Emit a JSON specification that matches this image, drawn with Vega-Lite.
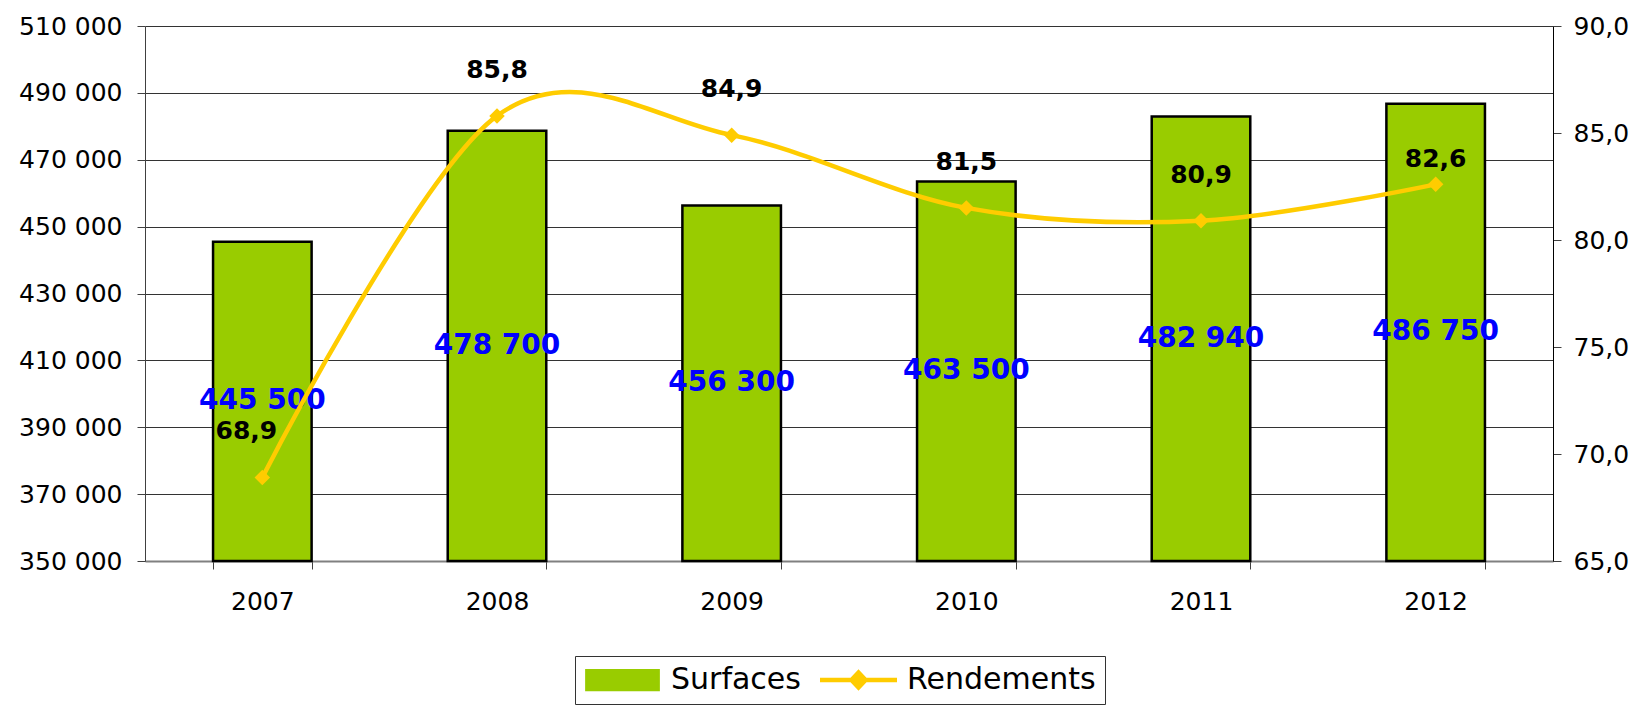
{
  "$schema": "https://vega.github.io/schema/vega-lite/v6.json",
  "autosize": {"type": "none"},
  "padding": {"left": 145, "top": 26, "right": 86, "bottom": 144},
  "width": 1408,
  "height": 535,
  "background": "white",
  "config": {
    "locale": {"number": {"decimal": ",", "thousands": " ", "grouping": [3], "currency": ["", " €"]}},
    "font": "DejaVu Sans",
    "view": {"stroke": null},
    "axis": {"labelFont": "DejaVu Sans", "labelFontSize": 25, "labelColor": "black"}
  },
  "data": {"values": [
    {"annee": "2007", "surface": 445500, "rendement": 68.9},
    {"annee": "2008", "surface": 478700, "rendement": 85.8},
    {"annee": "2009", "surface": 456300, "rendement": 84.9},
    {"annee": "2010", "surface": 463500, "rendement": 81.5},
    {"annee": "2011", "surface": 482940, "rendement": 80.9},
    {"annee": "2012", "surface": 486750, "rendement": 82.6}
  ]},
  "encoding": {
    "x": {"field": "annee", "type": "ordinal", "title": null,
      "scale": {"paddingInner": 0.58, "paddingOuter": 0.29},
      "axis": {"labelAngle": 0, "domainColor": "#808080", "domainWidth": 2, "tickColor": "#404040", "tickBand": "extent", "tickSize": 8, "labelPadding": 20, "labelFontSize": 25}}
  },
  "layer": [
    {
      "layer": [
        {
          "mark": {"type": "bar", "stroke": "black", "strokeWidth": 2.5, "opacity": 1},
          "encoding": {
            "y": {"field": "surface", "type": "quantitative", "title": null,
              "scale": {"domain": [350000, 510000], "nice": false, "zero": false},
              "axis": {"values": [350000, 370000, 390000, 410000, 430000, 450000, 470000, 490000, 510000], "format": ",d", "grid": true, "gridColor": "#333333", "gridWidth": 1, "domainColor": "#404040", "tickColor": "#404040", "tickSize": 8, "labelPadding": 15, "orient": "left"}},
            "y2": {"datum": 350000},
            "color": {"datum": "Surfaces", "type": "nominal",
              "scale": {"domain": ["Surfaces", "Rendements"], "range": ["#99CC00", "#FFCC00"]},
              "legend": {
                "title": null, "orient": "none", "legendX": 430, "legendY": 630, "direction": "horizontal",
                "strokeColor": "#333333", "padding": 9, "fillColor": "white",
                "labelFont": "DejaVu Sans", "labelFontSize": 30, "labelColor": "black", "labelOffset": 10,
                "columnPadding": 19, "symbolSize": 5625, "clipHeight": 30, "labelLimit": 400,
                "symbolType": {"expr": "datum.value === 'Surfaces' ? 'M-0.97,-0.27H0.97V0.27H-0.97Z' : 'M-1,-0.035H-0.2L0,-0.25L0.2,-0.035H1V0.035H0.2L0,0.25L-0.2,0.035H-1Z'"},
                "symbolStrokeWidth": 2,
                "symbolStrokeColor": {"expr": "datum.value === 'Surfaces' ? 'black' : '#FFCC00'"},
                "symbolFillColor": {"expr": "datum.value === 'Surfaces' ? '#99CC00' : '#FFCC00'"}
              }}
          }
        },
        {
          "transform": [{"calculate": "(datum.surface + 350000) / 2", "as": "milieu"}],
          "mark": {"type": "text", "font": "DejaVu Sans", "fontWeight": "bold", "fontSize": 28, "color": "#0000FF", "baseline": "middle", "align": "center"},
          "encoding": {
            "y": {"field": "milieu", "type": "quantitative", "scale": {"domain": [350000, 510000], "nice": false, "zero": false}},
            "text": {"field": "surface", "type": "quantitative", "format": ",d"}
          }
        }
      ]
    },
    {
      "layer": [
        {
          "mark": {"type": "line", "interpolate": "cardinal", "strokeWidth": 4.5, "point": {"filled": true, "shape": "diamond", "size": 240, "color": "#FFCC00"}},
          "encoding": {
            "y": {"field": "rendement", "type": "quantitative", "title": null,
              "scale": {"domain": [65, 90], "nice": false, "zero": false},
              "axis": {"orient": "right", "values": [65, 70, 75, 80, 85, 90], "format": ".1f", "grid": false, "domainColor": "black", "tickColor": "#404040", "tickSize": 8, "labelPadding": 12}},
            "color": {"datum": "Rendements", "type": "nominal", "legend": null}
          }
        },
        {
          "transform": [{"filter": "datum.annee !== '2012' && datum.annee !== '2007'"}],
          "mark": {"type": "text", "font": "DejaVu Sans", "fontWeight": "bold", "fontSize": 25, "color": "black", "baseline": "middle", "align": "center", "dy": -46},
          "encoding": {
            "y": {"field": "rendement", "type": "quantitative", "scale": {"domain": [65, 90], "nice": false, "zero": false}},
            "text": {"field": "rendement", "type": "quantitative", "format": ".1f"}
          }
        },
        {
          "transform": [{"filter": "datum.annee === '2007'"}],
          "mark": {"type": "text", "font": "DejaVu Sans", "fontWeight": "bold", "fontSize": 25, "color": "black", "baseline": "middle", "align": "center", "dy": -47, "dx": -16},
          "encoding": {
            "y": {"field": "rendement", "type": "quantitative", "scale": {"domain": [65, 90], "nice": false, "zero": false}},
            "text": {"field": "rendement", "type": "quantitative", "format": ".1f"}
          }
        },
        {
          "transform": [{"filter": "datum.annee === '2012'"}],
          "mark": {"type": "text", "font": "DejaVu Sans", "fontWeight": "bold", "fontSize": 25, "color": "black", "baseline": "middle", "align": "center", "dy": -25},
          "encoding": {
            "y": {"field": "rendement", "type": "quantitative", "scale": {"domain": [65, 90], "nice": false, "zero": false}},
            "text": {"field": "rendement", "type": "quantitative", "format": ".1f"}
          }
        }
      ]
    }
  ],
  "resolve": {"scale": {"y": "independent"}}
}
